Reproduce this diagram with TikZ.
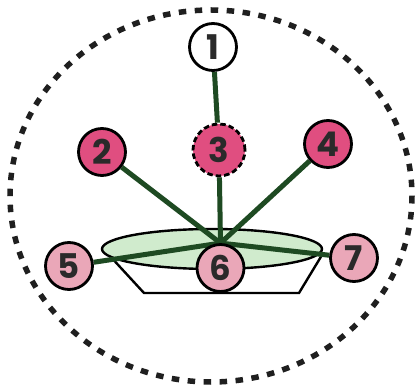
\documentclass[tikz,border=0pt]{standalone}
\usepackage{fontspec}
\setmainfont{Poppins}
\usetikzlibrary{backgrounds}
\definecolor{pinkdark}{HTML}{E04E80}
\definecolor{pinklight}{HTML}{EAA7B8}
\definecolor{stem}{HTML}{1E4A22}
\definecolor{plate}{HTML}{D0EBCD}
\definecolor{digit}{HTML}{2A2A2A}
\tikzset{
  num/.style={circle, draw=black, line width=2.8pt, minimum size=47pt, inner sep=0pt,
    font=\fontsize{34}{34}\selectfont\bfseries, text=digit},
  dark/.style={num, fill=pinkdark},
  light/.style={num, fill=pinklight},
  open/.style={num, fill=white},
  link/.style={draw=stem, line width=5pt},
}
\begin{document}
\begin{tikzpicture}[x=1pt,y=-1pt]
\useasboundingbox (0,0) rectangle (415,387);
% nodes
\node[open] (n1) at (213,47) {1};
\node[dark] (n2) at (102,152) {2};
\node[dark, dashed, dash pattern=on 5.5pt off 3pt, minimum size=52pt] (n3) at (219,150) {3};
\node[dark] (n4) at (328,144) {4};
\node[light] (n5) at (69,266) {5};
\node[light] (n6) at (220.5,268) {6};
\node[light] (n7) at (354,258) {7};
\begin{scope}[on background layer]
% outer dashed ellipse
\draw[line width=5.5pt, dash pattern=on 7.5pt off 8.5pt, color=black!88] (211,196) ellipse [x radius=201, y radius=186];
% dish
\draw[line width=2.4pt, fill=white] (109,255) -- (144,293) -- (299,293) -- (322,255);
\draw[line width=2.4pt, fill=plate] (212,249) ellipse [x radius=110, y radius=20];
% links
\path[link] (n1) -- (n3);
\path[link] (n3) -- (n6.north);
\path[link] (n2) -- (n6.north);
\path[link] (n4) -- (n6.north);
\path[link] (n5) -- (n6.north);
\path[link] (n7) -- (n6.north);
\end{scope}
\end{tikzpicture}
\end{document}
